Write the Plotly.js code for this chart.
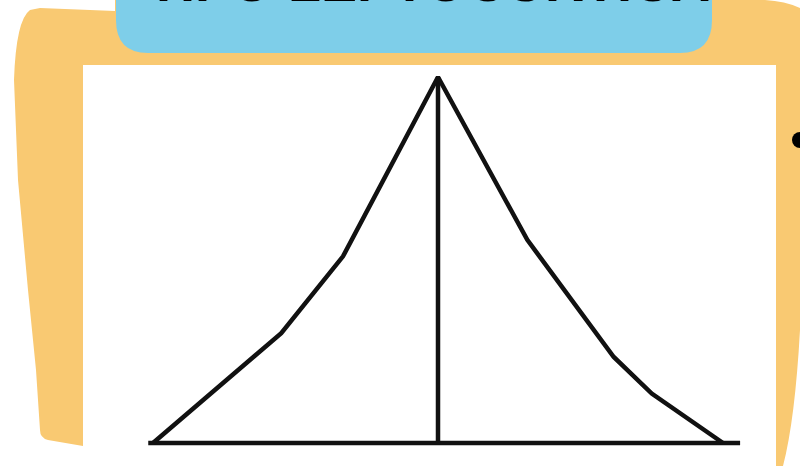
<!DOCTYPE html>
<html>
<head>
<meta charset="utf-8">
<script src="https://cdn.plot.ly/plotly-3.0.1.min.js"></script>
<style>html,body{margin:0;padding:0;background:#fff;}#chart{width:800px;height:466px;}</style>
</head>
<body>
<div id="chart"></div>
<script>
// Leptokurtic curve (x in standard units, y relative density)
const curveX = [-3.0, -1.65, -1.0, 0, 0.94, 1.85, 2.25, 3.0];
const curveY = [0, 0.30, 0.51, 1.0, 0.555, 0.235, 0.135, 0];
const baseX = [-3.05, 3.18];
const baseY = [0, 0];
const meanX = [0, 0];
const meanY = [0, 1.0];
const titleText = "TIPO LEPTOCÚRTICA";

const W = 800, H = 466;
function px(x){ return x / W; }
function py(y){ return 1 - y / H; }
function path(cmds){
  return cmds.map(c => {
    const out = [c[0]];
    for (let i = 1; i < c.length; i += 2) out.push(px(c[i]).toFixed(5) + ',' + py(c[i+1]).toFixed(5));
    return out.join(' ');
  }).join(' ') + ' Z';
}

const orange = '#F9C972';
const blue = '#7ECEE9';
const ink = '#111111';

const shapes = [
  { type:'path', xref:'paper', yref:'paper', layer:'below', fillcolor:orange, line:{width:0},
    path: path([['M',40,8],['L',115,11],['L',115,0],['L',765,0],['Q',785,1,800,8],['L',800,330],
                ['Q',795,420,783,466],['L',83,466],['L',83,446],['L',48,440],['Q',40,438,40,430],
                ['L',36,370],['L',28,290],['L',18,180],['L',14,80],['Q',16,20,30,10]]) },
  { type:'rect', xref:'paper', yref:'paper', layer:'below', fillcolor:'#ffffff', line:{width:0},
    x0:px(83), x1:px(776), y0:py(466), y1:py(65) },
  { type:'path', xref:'paper', yref:'paper', layer:'below', fillcolor:blue, line:{width:0},
    path: path([['M',116,-40],['L',712,-40],['L',712,20],['Q',712,53,680,53],['L',148,53],['Q',116,53,116,20]]) },
  { type:'circle', xref:'paper', yref:'paper', layer:'above', fillcolor:'#000', line:{width:0},
    x0:px(792), x1:px(808), y0:py(148), y1:py(132) }
];

const lineStyle = { color: ink, width: 4.5, shape: 'linear' };
const traces = [
  { x: baseX, y: baseY, mode:'lines', line: lineStyle, hoverinfo:'skip', cliponaxis:false },
  { x: meanX, y: meanY, mode:'lines', line: lineStyle, hoverinfo:'skip', cliponaxis:false },
  { x: curveX, y: curveY, mode:'lines', line: lineStyle, hoverinfo:'skip', cliponaxis:false }
];

const layout = {
  width: W, height: H,
  margin: { l:0, r:0, t:0, b:0, pad:0 },
  paper_bgcolor: '#ffffff',
  plot_bgcolor: 'rgba(0,0,0,0)',
  showlegend: false,
  xaxis: { range: [-3.2, 3.2], domain: [134/W, 742/W], visible: false, fixedrange: true },
  yaxis: { range: [-0.05, 1.05], domain: [1 - 461.3/H, 1 - 58.7/H], visible: false, fixedrange: true },
  shapes: shapes,
  annotations: [
    { text: titleText, xref:'paper', yref:'paper', x: px(428), y: py(-18), xanchor:'center', yanchor:'middle',
      showarrow:false, font:{ family:'Liberation Sans, Arial, sans-serif', size:54, color:'#000', weight:'bold' } }
  ]
};

Plotly.newPlot('chart', traces, layout, { displayModeBar:false, staticPlot:true });
</script>
</body>
</html>
